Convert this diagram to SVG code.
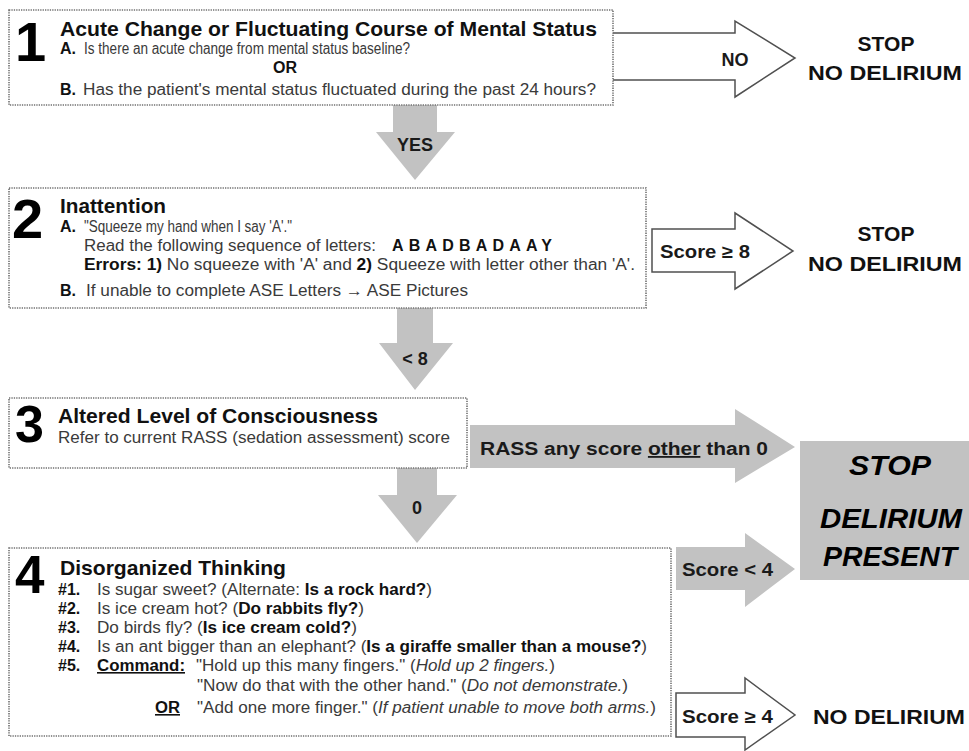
<svg xmlns="http://www.w3.org/2000/svg" width="969" height="751" viewBox="0 0 969 751">
<style>
.bx{fill:#fff;stroke:#707070;stroke-width:1.6;stroke-dasharray:1.3 1.1}
.ga{fill:#c2c2c2}
.wa{fill:#fff;stroke:#505050;stroke-width:1.5}
.f{font-family:"Liberation Sans Narrow","Liberation Sans",Arial,sans-serif;fill:#3a3a3a}
.n{font-family:"Liberation Sans",Arial,sans-serif;font-weight:bold;fill:#000}
.h{font-weight:bold;font-size:21px;fill:#111}
.q{font-size:16px}
.b{font-weight:bold;fill:#111}
.i{font-style:italic}
.u{text-decoration:underline}
.lab{font-family:"Liberation Sans Narrow","Liberation Sans",Arial,sans-serif;font-weight:bold;font-size:18px;fill:#1a1a1a}
.st{font-family:"Liberation Sans",Arial,sans-serif;font-weight:bold;font-size:21px;fill:#111;text-anchor:middle}
.big{font-family:"Liberation Sans",Arial,sans-serif;font-weight:bold;font-style:italic;font-size:28px;fill:#000;text-anchor:middle}
</style>

<g id="connectors">
  <polygon class="wa" points="612,33 735,33 735,21 795,58 735,97 735,80 612,80"/>
  <polygon class="ga" points="393,105 437,105 437,132 455,132 415,180 376,132 393,132"/>
  <polygon class="wa" points="652,229 735,229 735,213 793,251 735,289 735,272 652,272"/>
  <polygon class="ga" points="397,308 433,308 433,343 453,343 415,390 379,343 397,343"/>
  <polygon class="ga" points="470,425 735,425 735,409 795,447 735,483 735,468 470,468"/>
  <polygon class="ga" points="397,468 437,468 437,495 457,495 417,543 378,495 397,495"/>
  <polygon class="ga" points="676,547 745,547 745,533 795,569 745,607 745,590 676,590"/>
  <polygon class="wa" points="676,693 745,693 745,678 795,715 745,750 745,737 676,737"/>
  <text class="lab" x="735" y="66" text-anchor="middle">NO</text>
  <text class="lab" x="415" y="151" text-anchor="middle">YES</text>
  <text class="lab" x="660" y="258" textLength="90" lengthAdjust="spacingAndGlyphs">Score ≥ 8</text>
  <text class="lab" x="415" y="365" text-anchor="middle">&lt; 8</text>
  <text class="lab" x="480" y="455" textLength="288" lengthAdjust="spacingAndGlyphs">RASS any score <tspan class="u">other</tspan> than 0</text>
  <text class="lab" x="417" y="514" text-anchor="middle">0</text>
  <text class="lab" x="682" y="576" textLength="91" lengthAdjust="spacingAndGlyphs">Score &lt; 4</text>
  <text class="lab" x="682" y="723" textLength="91" lengthAdjust="spacingAndGlyphs">Score ≥ 4</text>
</g>

<g id="step1">
  <rect class="bx" x="9" y="10" width="604" height="95"/>
  <text class="n" x="15" y="61" font-size="56">1</text>
  <text class="f h" x="60" y="36" textLength="537" lengthAdjust="spacingAndGlyphs">Acute Change or Fluctuating Course of Mental Status</text>
  <text class="f q b" x="60" y="54">A.</text>
  <text class="f q" x="84" y="54" textLength="326" lengthAdjust="spacingAndGlyphs">Is there an acute change from mental status baseline?</text>
  <text class="f q b" x="285" y="73" text-anchor="middle">OR</text>
  <text class="f q b" x="60" y="95">B.</text>
  <text class="f q" x="83" y="95" textLength="513" lengthAdjust="spacingAndGlyphs">Has the patient's mental status fluctuated during the past 24 hours?</text>
</g>

<g id="stop1">
  <text class="st" x="886" y="51">STOP</text>
  <text class="st" x="885" y="80" textLength="154" lengthAdjust="spacingAndGlyphs">NO DELIRIUM</text>
</g>

<g id="step2">
  <rect class="bx" x="9" y="188" width="637" height="120"/>
  <text class="n" x="12" y="238" font-size="56">2</text>
  <text class="f h" x="60" y="213" textLength="106" lengthAdjust="spacingAndGlyphs">Inattention</text>
  <text class="f q b" x="60" y="232">A.</text>
  <text class="f q" x="84" y="232" textLength="208" lengthAdjust="spacingAndGlyphs">"Squeeze my hand when I say 'A'."</text>
  <text class="f q" x="84" y="251" textLength="292" lengthAdjust="spacingAndGlyphs">Read the following sequence of letters:</text>
  <text class="f q b" x="392" y="251" textLength="160" lengthAdjust="spacing">ABADBADAAY</text>
  <text class="f q" x="84" y="270" textLength="551" lengthAdjust="spacingAndGlyphs"><tspan class="b">Errors: 1)</tspan> No squeeze with 'A' and <tspan class="b">2)</tspan> Squeeze with letter other than 'A'.</text>
  <text class="f q b" x="60" y="296">B.</text>
  <text class="f q" x="86" y="296" textLength="382" lengthAdjust="spacingAndGlyphs">If unable to complete ASE Letters → ASE Pictures</text>
</g>

<g id="stop2">
  <text class="st" x="886" y="241">STOP</text>
  <text class="st" x="885" y="271" textLength="154" lengthAdjust="spacingAndGlyphs">NO DELIRIUM</text>
</g>

<g id="step3">
  <rect class="bx" x="9" y="398" width="458" height="70"/>
  <text class="n" x="15" y="442" font-size="52">3</text>
  <text class="f h" x="58" y="423" textLength="320" lengthAdjust="spacingAndGlyphs">Altered Level of Consciousness</text>
  <text class="f q" x="58" y="443" textLength="392" lengthAdjust="spacingAndGlyphs">Refer to current RASS (sedation assessment) score</text>
</g>

<g id="delirium">
  <rect class="ga" x="800" y="441" width="169" height="139"/>
  <text class="big" x="890" y="475" textLength="82" lengthAdjust="spacingAndGlyphs">STOP</text>
  <text class="big" x="891" y="528" textLength="142" lengthAdjust="spacingAndGlyphs">DELIRIUM</text>
  <text class="big" x="890" y="566" textLength="134" lengthAdjust="spacingAndGlyphs">PRESENT</text>
</g>

<g id="step4">
  <rect class="bx" x="9" y="548" width="662" height="188"/>
  <text class="n" x="15" y="593" font-size="53">4</text>
  <text class="f h" x="60" y="575" textLength="226" lengthAdjust="spacingAndGlyphs">Disorganized Thinking</text>
  <text class="f q b" x="58" y="595">#1.</text>
  <text class="f q" x="97" y="595" textLength="335" lengthAdjust="spacingAndGlyphs">Is sugar sweet? (Alternate: <tspan class="b">Is a rock hard?</tspan>)</text>
  <text class="f q b" x="58" y="614">#2.</text>
  <text class="f q" x="97" y="614" textLength="267" lengthAdjust="spacingAndGlyphs">Is ice cream hot? (<tspan class="b">Do rabbits fly?</tspan>)</text>
  <text class="f q b" x="58" y="633">#3.</text>
  <text class="f q" x="97" y="633" textLength="260" lengthAdjust="spacingAndGlyphs">Do birds fly? (<tspan class="b">Is ice cream cold?</tspan>)</text>
  <text class="f q b" x="58" y="652">#4.</text>
  <text class="f q" x="97" y="652" textLength="550" lengthAdjust="spacingAndGlyphs">Is an ant bigger than an elephant? (<tspan class="b">Is a giraffe smaller than a mouse?</tspan>)</text>
  <text class="f q b" x="58" y="671">#5.</text>
  <text class="f q b u" x="97" y="671" textLength="88" lengthAdjust="spacingAndGlyphs">Command:</text>
  <text class="f q" x="196" y="671" textLength="359" lengthAdjust="spacingAndGlyphs">"Hold up this many fingers." (<tspan class="i">Hold up 2 fingers.</tspan>)</text>
  <text class="f q" x="197" y="691" textLength="431" lengthAdjust="spacingAndGlyphs">"Now do that with the other hand." (<tspan class="i">Do not demonstrate.</tspan>)</text>
  <text class="f q b u" x="155" y="713" textLength="25" lengthAdjust="spacingAndGlyphs">OR</text>
  <text class="f q" x="197" y="713" textLength="459" lengthAdjust="spacingAndGlyphs">"Add one more finger." (<tspan class="i">If patient unable to move both arms.</tspan>)</text>
</g>

<g id="nodelirium">
  <text class="st" x="889" y="724" textLength="152" lengthAdjust="spacingAndGlyphs">NO DELIRIUM</text>
</g>
</svg>
